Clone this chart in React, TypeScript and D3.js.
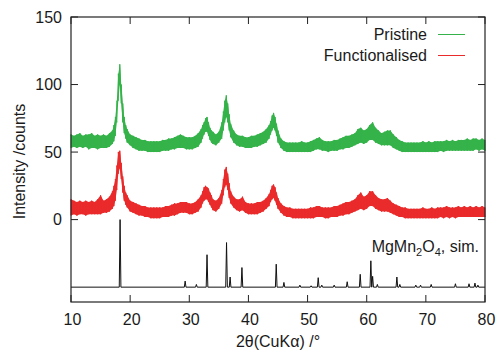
import React from 'react';
import * as d3 from 'd3';

// 2θ sampling of the measured patterns (finer around the main reflections)
const twoTheta = [
  10, 10.5, 11, 11.5, 12, 12.5, 13, 13.5, 14, 14.5, 15, 15.5, 16, 16.5, 17,
  17.25, 17.5, 17.75, 18, 18.25, 18.5, 18.75, 19, 19.25, 19.5,
  20, 20.5, 21, 21.5, 22, 22.5, 23, 23.5, 24, 24.5, 25, 25.5, 26, 26.5, 27, 27.5, 28, 28.5, 29, 29.5, 30, 30.5, 31, 31.5, 32,
  32.25, 32.5, 32.75, 33, 33.25, 33.5, 33.75,
  34, 34.5, 35, 35.5,
  35.75, 36, 36.25, 36.5, 36.75, 37,
  37.5, 38, 38.5, 39, 39.5, 40, 40.5, 41, 41.5, 42, 42.5, 43, 43.5,
  43.75, 44, 44.25, 44.5, 44.75, 45,
  45.5, 46, 46.5, 47, 47.5, 48, 48.5, 49, 49.5, 50, 50.5, 51, 51.5, 52, 52.5, 53, 53.5, 54, 54.5, 55,
  55.5, 56, 56.5, 57, 57.5, 58, 58.5, 59, 59.5, 60, 60.5, 61, 61.5, 62, 62.5, 63, 63.5, 64, 64.5, 65,
  65.5, 66, 66.5, 67, 67.5, 68, 68.5, 69, 69.5, 70, 70.5, 71, 71.5, 72, 72.5, 73, 73.5, 74, 74.5, 75,
  75.5, 76, 76.5, 77, 77.5, 78, 78.5, 79, 79.5, 80,
];

// noise band (min / max counts) of each trace at those angles
const pristineLo = [
  53, 54, 53, 54, 53, 54, 52, 53, 53, 52, 53, 53, 53, 54, 56,
  58, 62, 72, 88, 100, 86, 72, 64, 60, 57,
  55, 53, 52, 51, 51, 51, 50, 50, 50, 50, 50, 51, 51, 51, 52, 52, 53, 53, 53, 52, 52, 52, 53, 54, 57,
  60, 63, 65, 65, 62, 59, 57,
  56, 55, 57, 60,
  66, 72, 76, 72, 66, 61,
  57, 55, 54, 54, 53, 53, 53, 54, 54, 55, 56, 57, 60,
  63, 66, 68, 66, 62, 57,
  53, 51, 50, 50, 50, 50, 50, 50, 50, 50, 50, 51, 52, 52, 51, 51, 50, 51, 51, 51,
  52, 52, 53, 53, 54, 55, 56, 57, 56, 57, 59, 59, 57, 56, 55, 55, 55, 55, 53, 52,
  51, 50, 50, 50, 50, 50, 50, 50, 50, 50, 50, 50, 50, 50, 51, 50, 51, 51, 51, 51,
  51, 51, 51, 51, 51, 51, 52, 51, 52, 51,
];
const pristineHi = [
  63, 62, 63, 64, 62, 63, 63, 64, 62, 63, 62, 63, 62, 64, 66,
  70, 76, 88, 108, 115, 100, 86, 76, 70, 67,
  63, 62, 61, 60, 59, 59, 58, 58, 58, 58, 58, 59, 59, 60, 60, 61, 62, 63, 62, 61, 61, 61, 62, 64, 67,
  70, 72, 75, 76, 72, 68, 66,
  65, 63, 65, 72,
  80, 88, 92, 86, 78, 71,
  66, 63, 62, 62, 61, 61, 62, 62, 63, 64, 65, 67, 70,
  73, 77, 79, 76, 71, 66,
  60, 58, 57, 57, 57, 57, 57, 58, 57, 57, 58, 59, 60, 61, 59, 58, 58, 58, 59, 59,
  60, 61, 62, 62, 63, 64, 67, 68, 66, 67, 70, 72, 68, 66, 64, 65, 66, 66, 63, 61,
  59, 58, 57, 57, 57, 57, 57, 57, 58, 57, 58, 57, 58, 58, 58, 58, 59, 58, 59, 58,
  59, 59, 59, 60, 59, 60, 60, 59, 60, 59,
];
const functionalisedLo = [
  3, 4, 3, 4, 4, 3, 4, 4, 4, 4, 4, 5, 5, 6, 8,
  10, 14, 22, 34, 38, 30, 20, 14, 11, 9,
  6, 5, 4, 3, 3, 2, 2, 1, 1, 1, 1, 2, 2, 2, 3, 3, 4, 5, 5, 5, 4, 4, 5, 6, 9,
  12, 14, 15, 15, 13, 11, 9,
  7, 6, 8, 12,
  18, 24, 26, 22, 16, 12,
  9, 7, 6, 7, 5, 4, 4, 4, 4, 5, 6, 8, 10,
  13, 15, 16, 14, 11, 8,
  5, 3, 2, 2, 1, 1, 1, 1, 1, 1, 1, 1, 2, 2, 2, 1, 1, 2, 2, 2,
  3, 3, 4, 4, 5, 6, 7, 8, 7, 8, 10, 10, 8, 7, 6, 6, 6, 5, 4, 3,
  2, 2, 1, 1, 1, 1, 1, 1, 1, 1, 1, 1, 1, 1, 2, 1, 2, 1, 2, 1,
  2, 2, 2, 2, 2, 2, 2, 2, 2, 2,
];
const functionalisedHi = [
  15, 14, 13, 14, 13, 14, 13, 14, 13, 15, 18, 14, 15, 17, 21,
  25, 30, 40, 50, 51, 42, 32, 25, 20, 18,
  14, 13, 12, 11, 10, 10, 9, 9, 9, 9, 9, 9, 10, 10, 11, 12, 12, 13, 13, 13, 12, 12, 13, 15, 18,
  21, 24, 25, 24, 23, 20, 18,
  15, 14, 16, 22,
  30, 37, 39, 34, 27, 21,
  17, 15, 15, 17, 13, 12, 12, 12, 13, 13, 14, 16, 19,
  22, 25, 26, 24, 20, 16,
  12, 10, 9, 9, 8, 8, 8, 8, 8, 8, 9, 9, 10, 10, 9, 9, 9, 9, 10, 10,
  11, 12, 13, 13, 14, 15, 18, 20, 17, 18, 21, 21, 18, 16, 15, 15, 16, 14, 12, 11,
  10, 9, 9, 8, 8, 8, 8, 8, 9, 8, 8, 9, 8, 9, 9, 9, 10, 9, 9, 9,
  10, 9, 10, 9, 10, 9, 10, 9, 10, 9,
];

// simulated MgMn2O4 reflections: position (°) and relative intensity (%)
const simPos = [
  18.3, 29.3, 31.2, 33.0, 36.3, 36.9, 38.9, 44.7, 46.0, 48.7, 50.6, 51.8, 52.4, 54.5, 56.7,
  58.9, 60.7, 61.0, 61.8, 65.1, 65.6, 68.3, 69.1, 70.9, 75.0, 77.3, 78.3, 78.8,
];
const simInt = [
  100, 9, 4, 48, 66, 15, 29, 34, 7, 3, 2, 14, 3, 3, 8,
  19, 39, 16, 4, 15, 4, 3, 3, 4, 5, 5, 6, 3,
];
const simOffset = -50;
const simScale = 0.5;

const xTicks = [10, 20, 30, 40, 50, 60, 70, 80];
const yTicks = [0, 50, 100, 150];

const seriesNames = ['Pristine', 'Functionalised'];
const seriesColors = ['#35b34a', '#ea2b2b'];

const W = 496;
const H = 350;
const left = 71;
const right = 485;
const top = 17;
const bottom = 302;
const font = '"Liberation Sans", Arial, Helvetica, sans-serif';

const x = d3.scaleLinear().domain([10, 80]).range([left, right]);
const y = d3.scaleLinear().domain([-61, 150]).range([bottom, top]);

// min/max trace: vertical stroke at each angle, joined to the next
function tracePath(lo: number[], hi: number[]) {
  const pts: [number, number][] = [];
  twoTheta.forEach((t, i) => {
    pts.push([x(t), y(lo[i])]);
    pts.push([x(t), y(hi[i])]);
  });
  return d3.line()(pts) || '';
}

function bandPath(lo: number[], hi: number[]) {
  const area = d3.area<number>()
    .x((_, i) => x(twoTheta[i]))
    .y0((_, i) => y(lo[i]))
    .y1((_, i) => y(hi[i]));
  return area(twoTheta) || '';
}

function simPath() {
  const w = 0.14;
  const base = y(simOffset);
  const pts: [number, number][] = [[x(10), base]];
  simPos.forEach((p, i) => {
    pts.push([x(p - w), base]);
    pts.push([x(p), y(simOffset + simInt[i] * simScale)]);
    pts.push([x(p + w), base]);
  });
  pts.push([x(80), base]);
  return d3.line()(pts) || '';
}

const App: React.FC = () => {
  const traces = [
    { lo: pristineLo, hi: pristineHi },
    { lo: functionalisedLo, hi: functionalisedHi },
  ];
  return (
    <svg
      width={W}
      height={H}
      style={{ position: 'absolute', left: 0, top: 0, background: '#fff' }}
      fontFamily={font}
    >
      {/* measured patterns */}
      {traces.map((s, k) => (
        <g key={`trace-${k}`}>
          <path d={bandPath(s.lo, s.hi)} fill={seriesColors[k]} />
          <path d={tracePath(s.lo, s.hi)} fill="none" stroke={seriesColors[k]} strokeWidth={1} />
        </g>
      ))}

      {/* simulated pattern */}
      <path d={simPath()} fill="none" stroke="#111" strokeWidth={1} />

      {/* frame */}
      <rect
        x={left}
        y={top}
        width={right - left}
        height={bottom - top}
        fill="none"
        stroke="#222"
        strokeWidth={1.2}
      />

      {/* x ticks, bottom and top */}
      {xTicks.map(t => (
        <g key={`xt-${t}`}>
          <line x1={x(t)} x2={x(t)} y1={bottom} y2={bottom - 7} stroke="#222" />
          <line x1={x(t)} x2={x(t)} y1={top} y2={top + 7} stroke="#222" />
          <text x={x(t) + 1.5} y={325} textAnchor="middle" fontSize={16} fill="#1a1a1a">
            {t}
          </text>
        </g>
      ))}

      {/* y ticks, left and right */}
      {yTicks.map(t => (
        <g key={`yt-${t}`}>
          <line x1={left} x2={left + 7} y1={y(t)} y2={y(t)} stroke="#222" />
          <line x1={right} x2={right - 7} y1={y(t)} y2={y(t)} stroke="#222" />
          <text x={62} y={y(t)} dy="0.36em" textAnchor="end" fontSize={16} fill="#1a1a1a">
            {t}
          </text>
        </g>
      ))}

      {/* axis titles */}
      <text x={(left + right) / 2} y={347} textAnchor="middle" fontSize={16} fill="#1a1a1a">
        2θ(CuKα) /°
      </text>
      <text
        transform={`translate(25, ${(top + bottom) / 2 + 2}) rotate(-90)`}
        textAnchor="middle"
        fontSize={16}
        fill="#1a1a1a"
      >
        Intensity /counts
      </text>

      {/* legend */}
      {seriesNames.map((name, k) => (
        <g key={`leg-${k}`} transform={`translate(0, ${40 + k * 21})`}>
          <text x={427} y={0} textAnchor="end" fontSize={16} fill="#1a1a1a">
            {name}
          </text>
          <line x1={438} x2={465} y1={-5.5} y2={-5.5} stroke={seriesColors[k]} strokeWidth={1} />
        </g>
      ))}

      {/* simulated pattern label */}
      <text x={479} y={251.5} textAnchor="end" fontSize={16} fill="#1a1a1a">
        MgMn
        <tspan fontSize={11} dy={4}>2</tspan>
        <tspan dy={-4}>O</tspan>
        <tspan fontSize={11} dy={4}>4</tspan>
        <tspan dy={-4}>, sim.</tspan>
      </text>
    </svg>
  );
};

export default App;
